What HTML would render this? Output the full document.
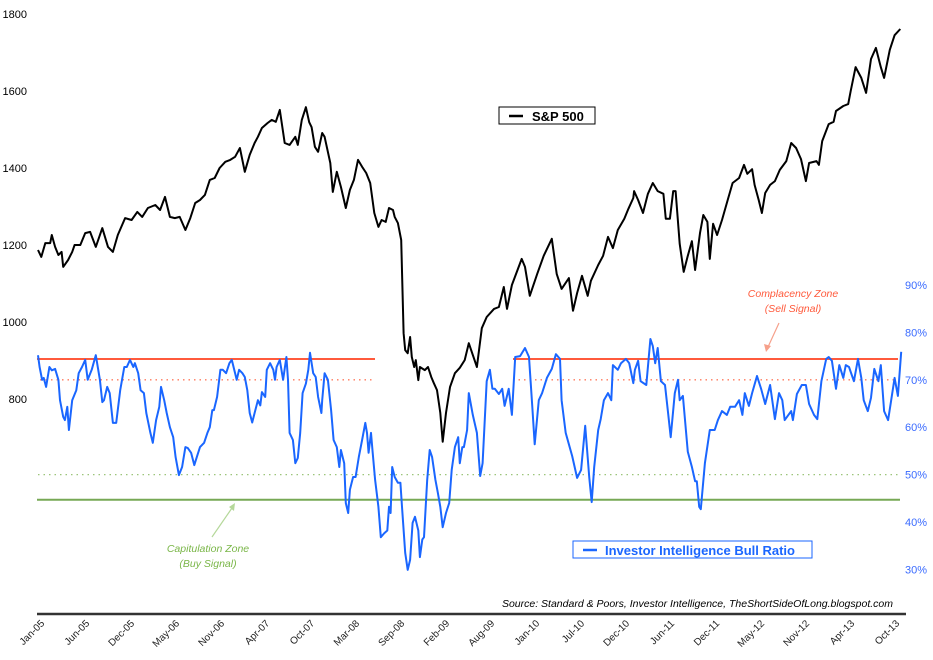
<!DOCTYPE html>
<html><head><meta charset="utf-8"><style>
html,body{margin:0;padding:0;background:#fff;}
svg{display:block;font-family:"Liberation Sans",sans-serif;}
</style></head><body>
<svg id="chart" width="933" height="660" viewBox="0 0 933 660">
<g id="grid"></g>
<g id="series"></g>
<g id="axes"></g>
<g>
<rect x="499" y="107" width="96" height="17" fill="#fff" stroke="#000" stroke-width="1"/>
<line x1="509" y1="116" x2="523" y2="116" stroke="#000" stroke-width="2.5"/>
<text x="532" y="121" font-size="13" font-weight="bold" fill="#000">S&amp;P 500</text>
</g>
<g>
<rect x="573" y="541" width="239" height="17" fill="#fff" stroke="#1a66ff" stroke-width="1"/>
<line x1="583" y1="550" x2="597" y2="550" stroke="#1a66ff" stroke-width="2.5"/>
<text x="605" y="555" font-size="13" font-weight="bold" fill="#1a66ff">Investor Intelligence Bull Ratio</text>
</g>
<g>
<text x="793" y="297" font-size="10.5" font-style="italic" fill="#ff5a3c" text-anchor="middle">Complacency Zone</text>
<text x="793" y="312" font-size="10.5" font-style="italic" fill="#ff5a3c" text-anchor="middle">(Sell Signal)</text>
<line x1="779" y1="323" x2="768" y2="347" stroke="#f6a08a" stroke-width="1.2"/>
<polygon points="766,352 764,344 771,346" fill="#f6a08a"/>
</g>
<g>
<text x="208" y="552" font-size="10.5" font-style="italic" fill="#7ab648" text-anchor="middle">Capitulation Zone</text>
<text x="208" y="567" font-size="10.5" font-style="italic" fill="#7ab648" text-anchor="middle">(Buy Signal)</text>
<line x1="212" y1="537" x2="232" y2="508" stroke="#b5d89a" stroke-width="1.2"/>
<polygon points="235,503 229,507 234,511" fill="#b5d89a"/>
</g>
<text x="893" y="607" font-size="10.5" font-style="italic" fill="#000" text-anchor="end">Source: Standard &amp; Poors, Investor Intelligence, TheShortSideOfLong.blogspot.com</text>
</svg>
<script>
const xTickLabels=["Jan-05","Jun-05","Dec-05","May-06","Nov-06","Apr-07","Oct-07","Mar-08","Sep-08","Feb-09","Aug-09","Jan-10","Jul-10","Dec-10","Jun-11","Dec-11","May-12","Nov-12","Apr-13","Oct-13"];
const leftTicks=[800,1000,1200,1400,1600,1800];
const rightTicks=[30,40,50,60,70,80,90];
const spxMonths=[0,0.4,0.9,1.5,1.7,2.1,2.5,2.9,3.1,3.7,4.2,4.5,5.2,5.8,6.4,7.1,7.9,8.6,9.2,9.8,10.7,11.5,12.2,12.8,13.5,14.4,15.0,15.6,16.2,16.8,17.4,18.1,18.7,19.3,19.9,20.5,21.1,21.7,22.3,23.0,23.6,24.2,24.8,25.4,26.0,26.6,27.0,27.5,28.2,28.7,29.2,29.7,30.3,30.9,31.6,31.9,32.4,32.9,33.3,33.6,34.0,34.4,34.9,35.2,35.9,36.2,36.7,37.2,37.8,38.3,38.8,39.3,39.8,40.3,40.8,41.3,41.8,42.2,42.7,43.1,43.6,43.8,44.2,44.6,44.9,45.1,45.4,45.7,45.9,46.2,46.4,46.7,46.9,47.5,47.9,48.3,48.6,49.0,49.4,49.7,50.1,50.6,51.2,51.8,52.4,52.9,53.9,54.5,55.1,56.0,56.6,57.2,57.6,58.2,59.4,59.8,60.4,61.3,62.1,63.1,63.7,64.3,65.2,65.7,66.2,66.8,67.5,67.9,68.8,69.4,70.0,70.6,71.2,72.0,72.5,73.1,73.2,73.7,74.3,74.9,75.5,76.1,76.8,77.1,77.6,78.0,78.3,78.8,79.3,79.8,80.3,80.7,81.3,81.7,82.2,82.5,82.9,83.4,84.0,84.7,85.3,86.1,86.7,87.1,87.7,88.0,88.5,88.9,89.3,89.9,90.5,91.1,91.9,92.5,93.1,93.7,94.3,94.7,95.6,95.9,96.3,97.1,97.7,98.0,98.9,99.5,99.8,100.4,101.1,101.7,102.3,102.9,103.5,103.9,104.6,105.2,105.9];
const spxValues=[1187,1169,1205,1205,1226,1195,1174,1182,1143,1161,1182,1200,1200,1231,1234,1195,1244,1195,1182,1226,1270,1265,1286,1273,1296,1304,1291,1325,1273,1270,1273,1239,1270,1309,1317,1330,1369,1374,1400,1416,1421,1429,1452,1390,1434,1465,1481,1504,1517,1525,1520,1551,1465,1460,1481,1460,1525,1558,1519,1506,1455,1442,1491,1481,1413,1338,1390,1351,1296,1343,1369,1421,1403,1387,1361,1283,1247,1265,1260,1296,1291,1273,1257,1213,971,927,919,961,909,883,901,849,883,875,883,857,842,823,764,689,764,831,867,881,901,945,883,984,1013,1034,1039,1091,1034,1096,1164,1143,1068,1125,1172,1216,1125,1086,1114,1029,1075,1120,1068,1107,1148,1172,1221,1192,1239,1268,1294,1322,1340,1317,1283,1333,1361,1340,1333,1268,1268,1340,1340,1203,1130,1172,1210,1135,1231,1278,1260,1164,1255,1226,1265,1317,1361,1374,1408,1385,1397,1356,1317,1283,1335,1356,1366,1395,1418,1465,1452,1423,1366,1413,1418,1408,1470,1514,1520,1548,1561,1566,1600,1662,1634,1595,1683,1712,1662,1634,1707,1745,1761];
const bullMonths=[0,0.2,0.5,0.7,1.0,1.4,1.7,2.1,2.5,2.7,3.1,3.3,3.6,3.8,4.2,4.7,5.0,5.4,5.8,6.1,6.6,7.1,7.6,7.9,8.1,8.5,8.8,9.2,9.6,10.1,10.6,10.9,11.3,11.7,11.9,12.3,12.6,13.0,13.3,13.8,14.1,14.5,14.9,15.1,15.5,15.8,16.2,16.6,16.9,17.3,17.7,18.1,18.4,18.8,19.2,19.5,19.9,20.4,20.8,21.1,21.4,21.6,22.0,22.4,22.7,23.1,23.5,23.8,24.2,24.4,24.7,25.1,25.4,25.7,26.0,26.3,26.6,27.0,27.3,27.5,27.9,28.1,28.5,28.9,29.1,29.3,29.7,30.1,30.5,30.7,30.9,31.3,31.6,31.9,32.2,32.5,32.9,33.2,33.4,33.8,34.1,34.4,34.8,34.9,35.2,35.6,36.0,36.3,36.7,37.0,37.2,37.6,37.8,38.1,38.3,38.7,39.0,39.4,39.8,40.2,40.4,40.6,40.9,41.1,41.4,41.8,42.1,42.5,42.9,43.1,43.3,43.5,43.8,44.2,44.5,44.7,45.1,45.4,45.7,46.0,46.3,46.7,46.9,47.2,47.4,47.8,48.1,48.4,48.8,49.1,49.4,49.7,50.1,50.5,50.8,51.2,51.6,51.8,52.1,52.3,52.7,52.9,53.4,53.9,54.3,54.6,55.1,55.5,55.8,56.1,56.6,57.0,57.3,57.8,58.2,58.6,59.2,59.8,60.3,60.7,61.0,61.5,61.9,62.5,63.1,63.6,64.1,64.3,64.8,65.2,65.6,66.2,66.7,67.2,67.7,68.0,68.3,68.8,69.1,69.5,70.0,70.4,70.6,71.2,71.6,72.2,72.6,73.1,73.3,73.7,74.0,74.7,75.2,75.5,75.8,76.1,76.5,77.0,77.4,77.7,78.2,78.6,78.8,79.2,79.8,80.3,80.7,80.9,81.2,81.4,81.9,82.5,83.1,83.5,84.0,84.6,85.0,85.6,86.1,86.5,86.8,87.3,87.7,88.3,88.8,89.3,89.9,90.5,91.0,91.4,91.7,92.5,92.7,93.2,93.8,94.3,94.7,95.3,95.7,96.2,96.8,97.1,97.5,98.0,98.4,98.9,99.2,99.6,100.2,100.7,101.1,101.4,101.9,102.3,102.7,103.2,103.5,103.9,104.4,104.7,105.2,105.6,106.0];
const bullValues=[75.2,72.7,70,70.4,68.5,72.7,72,72.3,70,65.7,62.2,61.5,64.3,59.4,65.7,67.8,71.4,72.7,74.2,70,72.1,75.2,70,65.3,65.7,68.5,67.2,60.9,60.9,67.8,72.7,72.7,74.2,72.7,73.5,71.4,67.8,67.2,63,58.8,56.7,61.5,64.3,68.5,65.7,63,60,57.9,53.7,49.9,51.6,55.8,55.6,54.6,52,53.7,55.8,56.7,58.8,60,63.6,63.6,66.4,72.1,72.1,71.4,73.5,74.2,71.4,70,72.1,71.4,70.6,67.8,63,61,63,65.7,64.6,67.4,66.4,72.1,73.5,72.1,70,72.7,74.2,70,74.8,70,58.8,57.3,52.4,53.5,58.8,67.2,69.2,72.1,75.7,71.4,70.6,66.4,63,65.7,71.4,70,63.6,57.3,55.8,51.6,55.2,52.4,44,41.9,46.8,49.5,49.5,53.7,57.3,60.9,58.8,54.6,58.8,54.6,48.9,43.2,36.8,37.6,38.2,43.2,41.9,51.6,49.5,48.3,48.3,43.2,33.5,29.9,32,39.8,41.1,38.2,32.6,36.3,36.8,48.9,55.2,53.7,48.9,46.2,43.2,38.9,41.9,44,51,55.8,57.9,52.4,55.8,55.8,59.4,67.2,62.6,58.8,49.7,52.4,69.7,72.1,68.1,68.1,67,68.1,64.5,68.1,62.6,74.8,75,76.7,74.8,64.3,56.4,65.7,67.2,70.4,72.3,75.4,74.4,65.7,58.8,56.4,53.9,49.3,51,60.3,49.3,44.2,51.6,59.4,61.7,65.7,67.2,65.7,73.1,72.1,73.5,74.4,73.5,69.3,72.1,74,69.7,68.9,78.6,77.1,73.5,76.7,69.7,68.9,62.6,57.9,67.2,70,65.7,66.6,54.8,51.6,48.6,48.6,43.2,42.7,52.4,59.4,59.4,61.5,63.4,62.6,64.3,64.3,65.7,62.6,67.2,64.5,67.2,70.8,68.1,64.9,68.9,61.7,67.2,65.7,61.5,63.4,61.5,67,68.9,68.9,64.9,62.6,61.7,69.7,74.4,74.8,74,68.1,73.1,70.4,73.1,72.7,69.7,74.4,70.4,65.7,63.4,66.2,72.3,69.7,73.1,63.4,61.5,64.9,70.4,66.6,75.9];
const redLevel=74.4, redDotLevel=70, greenDotLevel=50, greenLevel=44.7;

const NS="http://www.w3.org/2000/svg";
function xOf(m){return 38+m*8.143;}
function yL(v){return 14+(1800-v)*77/200;}
function yR(p){return 285+(90-p)*4.74;}
function mk(tag,attrs,parent){const e=document.createElementNS(NS,tag);for(const k in attrs)e.setAttribute(k,attrs[k]);parent.appendChild(e);return e;}

const grid=document.getElementById('grid');
const series=document.getElementById('series');
const axes=document.getElementById('axes');

// zone lines
let l;
l=mk('line',{x1:40,x2:375,y1:yR(redDotLevel),y2:yR(redDotLevel),stroke:'#ff7a5c','stroke-width':1.3,'stroke-dasharray':'1.5,4'},grid);


l=mk('line',{x1:513,x2:898,y1:yR(redDotLevel),y2:yR(redDotLevel),stroke:'#ff7a5c','stroke-width':1.3,'stroke-dasharray':'1.5,4'},grid);


l=mk('line',{x1:38,x2:898,y1:yR(greenDotLevel),y2:yR(greenDotLevel),stroke:'#9cc47a','stroke-width':1.3,'stroke-dasharray':'1.5,4'},grid);


l=mk('line',{x1:37,x2:900,y1:yR(greenLevel),y2:yR(greenLevel),stroke:'#77a855','stroke-width':2},grid);


l=mk('line',{x1:37,x2:375,y1:yR(redLevel),y2:yR(redLevel),stroke:'#ff5a3c','stroke-width':2},grid);


l=mk('line',{x1:513,x2:898,y1:yR(redLevel),y2:yR(redLevel),stroke:'#ff5a3c','stroke-width':2},grid);



// series
const bp=mk('path',{d:bullMonths.map((m,i)=>(i?'L':'M')+xOf(m).toFixed(1)+','+yR(bullValues[i]).toFixed(1)).join(''),fill:'none',stroke:'#1a66ff','stroke-width':2,'stroke-linejoin':'round'},series);


const sp=mk('path',{d:spxMonths.map((m,i)=>(i?'L':'M')+xOf(m).toFixed(1)+','+yL(spxValues[i]).toFixed(1)).join(''),fill:'none',stroke:'#000','stroke-width':2,'stroke-linejoin':'round'},series);



// axes
const ax=mk('line',{x1:37,x2:906,y1:614,y2:614,stroke:'#333','stroke-width':2.5},axes);


leftTicks.forEach(v=>{
  const t=mk('text',{x:27,y:yL(v)+4,'font-size':11,'text-anchor':'end',fill:'#000'},axes);
  t.textContent=String(v);
  
  
});
rightTicks.forEach(p=>{
  const t=mk('text',{x:905,y:yR(p)+4,'font-size':11,fill:'#3a6bff'},axes);
  t.textContent=p+'%';
  
  
});
xTickLabels.forEach((s,i)=>{
  const x=45+i*45.0, y=624;
  const t=mk('text',{x:x,y:y,'font-size':10,'text-anchor':'end',fill:'#222',transform:'rotate(-45 '+x+' '+y+')'},axes);
  t.textContent=s;
  
  
});
</script>
</body></html>
